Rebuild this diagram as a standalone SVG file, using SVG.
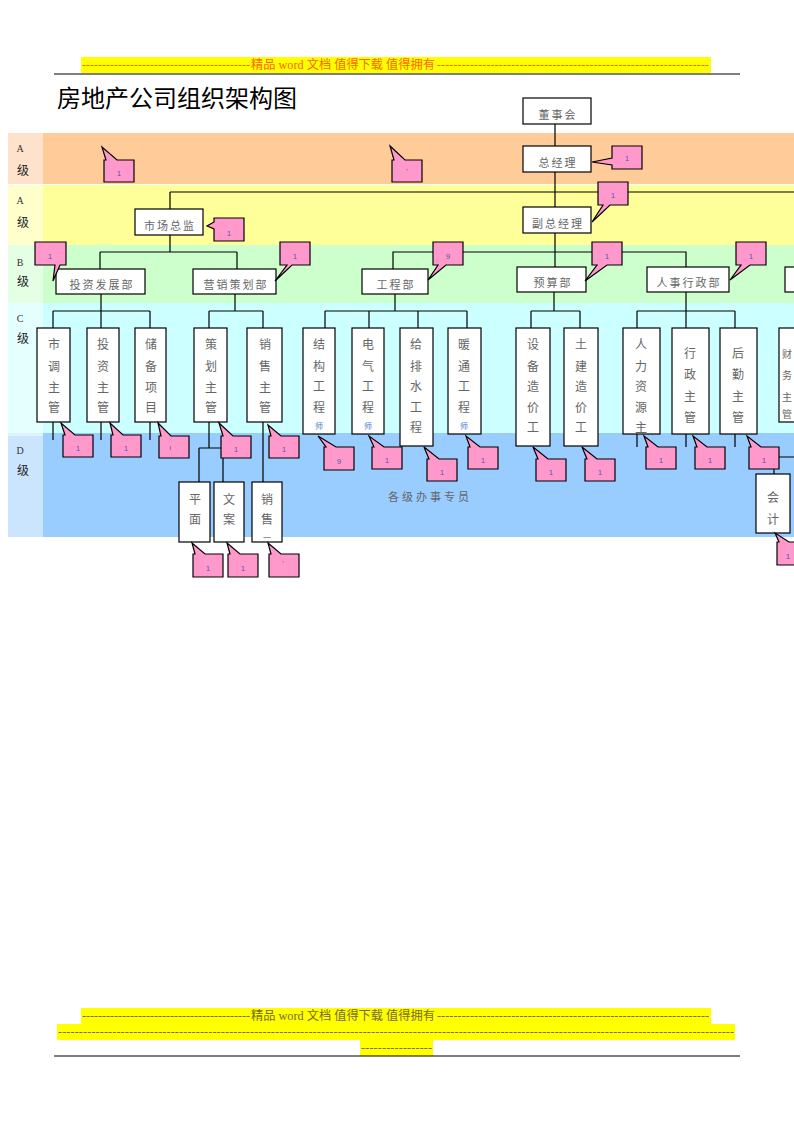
<svg xmlns="http://www.w3.org/2000/svg" width="794" height="1123" viewBox="0 0 794 1123">
<style>
.box{fill:#fff;stroke:#000;stroke-width:1.2}
.ln{stroke:#000;stroke-width:1.2;fill:none}
.t{font-family:"Noto Sans CJK SC",sans-serif;font-size:11px;fill:#666;text-anchor:middle;letter-spacing:2px}
.vt{font-family:"Noto Sans CJK SC",sans-serif;font-size:12px;fill:#666;text-anchor:middle}
.sm{font-family:"Noto Sans CJK SC",sans-serif;font-size:8px;fill:#4a7fd0;text-anchor:middle}
.co{fill:#FF99CC;stroke:#000;stroke-width:1.2}
.ct{font-family:"Liberation Sans",sans-serif;font-size:8px;fill:#5a5ab4;text-anchor:middle}
.lv{font-family:"Liberation Serif",serif;font-size:10px;fill:#333;text-anchor:middle}
.lz{font-family:"Noto Sans CJK SC",sans-serif;font-size:12px;fill:#222;text-anchor:middle}
.hd{font-family:"Liberation Serif","Noto Sans CJK SC",serif;font-size:12px}
</style>

<!-- header / footer -->
<g id="header">
<rect x="81" y="57" width="630" height="16" fill="#FFFF00"/>
<text class="hd" x="82" y="69" fill="#FF6600" textLength="168" lengthAdjust="spacing">------------------------------------------</text>
<text class="hd" x="251" y="69" fill="#FF6600" textLength="184" lengthAdjust="spacingAndGlyphs">精品 word 文档 值得下载 值得拥有</text>
<text class="hd" x="437" y="69" fill="#FF6600" textLength="272" lengthAdjust="spacing">------------------------------------------------------------------</text>
<line x1="54" y1="74" x2="740" y2="74" stroke="#000" stroke-width="1.2"/>
</g>
<g id="footer">
<rect x="81" y="1008" width="630" height="16" fill="#FFFF00"/>
<rect x="57" y="1024" width="678" height="16" fill="#FFFF00"/>
<rect x="360" y="1040" width="73" height="16" fill="#FFFF00"/>
<text class="hd" x="82" y="1020" fill="#7a6a20" textLength="168" lengthAdjust="spacing">------------------------------------------</text>
<text class="hd" x="251" y="1020" fill="#7a6a20" textLength="184" lengthAdjust="spacingAndGlyphs">精品 word 文档 值得下载 值得拥有</text>
<text class="hd" x="437" y="1020" fill="#7a6a20" textLength="272" lengthAdjust="spacing">------------------------------------------------------------------</text>
<text class="hd" x="58" y="1036" fill="#7a6a20" textLength="676" lengthAdjust="spacing">------------------------------------------------------------------------------------------------------------------------------------------------------------------</text>
<text class="hd" x="361" y="1052" fill="#7a6a20" textLength="71" lengthAdjust="spacing">-----------------</text>
<line x1="54" y1="1056" x2="740" y2="1056" stroke="#000" stroke-width="1.2"/>
</g>

<text x="57" y="107" font-family="Noto Sans CJK SC,sans-serif" font-size="24" fill="#000">房地产公司组织架构图</text>

<!-- bands -->
<g id="bands">
<rect x="8" y="133" width="786" height="51" fill="#FFCC99"/>
<rect x="8" y="133" width="35" height="51" fill="#FFE2CC"/>
<rect x="8" y="185" width="786" height="60" fill="#FFFF99"/>
<rect x="8" y="185" width="35" height="60" fill="#FFFFCC"/>
<rect x="8" y="245" width="786" height="58" fill="#CCFFCC"/>
<rect x="8" y="245" width="35" height="58" fill="#E5FFE5"/>
<rect x="8" y="303" width="786" height="130" fill="#CCFFFF"/>
<rect x="8" y="303" width="35" height="130" fill="#E5FFFF"/>
<rect x="8" y="433" width="786" height="104" fill="#99CCFF"/>
<rect x="8" y="433" width="35" height="104" fill="#CCE5FF"/>
<rect x="8" y="433" width="35" height="3" fill="#DDF2FF"/>
<text class="lv" x="20" y="152">A</text><text class="lz" x="23" y="175">级</text>
<text class="lv" x="20" y="204">A</text><text class="lz" x="23" y="227">级</text>
<text class="lv" x="20" y="266">B</text><text class="lz" x="23" y="286">级</text>
<text class="lv" x="20" y="322">C</text><text class="lz" x="23" y="343">级</text>
<text class="lv" x="20" y="454">D</text><text class="lz" x="23" y="475">级</text>
<text class="t" x="430" y="501" style="letter-spacing:3px">各级办事专员</text>
</g>

<!-- connectors -->
<g id="connectors" class="ln">
<path d="M555,124 V146 M555,172 V207 M555,233 V267"/>
<path d="M170,192 H794 M170,192 V209"/>
<path d="M170,235 V252 M100,252 H237 M100,252 V269 M237,252 V269"/>
<path d="M393,269 V252 H686 V267"/>
<path d="M101,294 V311 M53,311 H150 M53,311 V328 M101,311 V328 M150,311 V328"/>
<path d="M235,294 V311 M209,311 H263 M209,311 V328 M263,311 V328"/>
<path d="M395,294 V311 M325,311 H467 M325,311 V328 M369,311 V328 M418,311 V328 M467,311 V328"/>
<path d="M554,292 V311 M531,311 H580 M531,311 V328 M580,311 V328"/>
<path d="M686,292 V311 M637,311 H735 M637,311 V328 M686,311 V328 M735,311 V328"/>
<path d="M53,422 V440 M101,422 V440 M150,422 V440"/>
<path d="M209,422 V448 M199,448 H223 M199,448 V482 M223,448 V482 M263,422 V482"/>
<path d="M637,434 V447 M686,434 V447 M735,434 V447"/>
<path d="M794,457 H774 V474"/>
</g>

<!-- nodes -->
<g id="n-dongshihui"><rect class="box" x="523" y="98" width="68" height="26"/><text class="t" x="558" y="119">董事会</text></g>
<g id="n-zongjingli"><rect class="box" x="523" y="146" width="68" height="26"/><text class="t" x="558" y="167">总经理</text></g>
<g id="n-fuzongjingli"><rect class="box" x="523" y="207" width="68" height="26"/><text class="t" x="558" y="228">副总经理</text></g>
<g id="n-shichangzongjian"><rect class="box" x="135" y="209" width="68" height="26"/><text class="t" x="170" y="230">市场总监</text></g>

<g id="n-touzifazhan"><rect class="box" x="56" y="269" width="89" height="25"/><text class="t" x="102" y="289">投资发展部</text></g>
<g id="n-yingxiao"><rect class="box" x="193" y="269" width="83" height="25"/><text class="t" x="236" y="289">营销策划部</text></g>
<g id="n-gongcheng"><rect class="box" x="362" y="269" width="66" height="25"/><text class="t" x="396" y="289">工程部</text></g>
<g id="n-yusuan"><rect class="box" x="517" y="267" width="69" height="25"/><text class="t" x="553" y="287">预算部</text></g>
<g id="n-renshi"><rect class="box" x="647" y="267" width="82" height="25"/><text class="t" x="689" y="287">人事行政部</text></g>
<g id="n-caiwu"><rect class="box" x="785" y="267" width="40" height="25"/></g>

<g id="n-shidiao"><rect class="box" x="37" y="328" width="33" height="94"/>
<text class="vt"><tspan x="54" y="349">市</tspan><tspan x="54" y="371">调</tspan><tspan x="54" y="392">主</tspan><tspan x="54" y="412">管</tspan></text></g>
<g id="n-touzi"><rect class="box" x="87" y="328" width="32" height="94"/>
<text class="vt"><tspan x="103" y="349">投</tspan><tspan x="103" y="371">资</tspan><tspan x="103" y="392">主</tspan><tspan x="103" y="412">管</tspan></text></g>
<g id="n-chubei"><rect class="box" x="135" y="328" width="31" height="94"/>
<text class="vt"><tspan x="151" y="349">储</tspan><tspan x="151" y="371">备</tspan><tspan x="151" y="392">项</tspan><tspan x="151" y="412">目</tspan></text></g>
<g id="n-cehua"><rect class="box" x="194" y="328" width="33" height="94"/>
<text class="vt"><tspan x="211" y="349">策</tspan><tspan x="211" y="371">划</tspan><tspan x="211" y="392">主</tspan><tspan x="211" y="412">管</tspan></text></g>
<g id="n-xiaoshou"><rect class="box" x="247" y="328" width="35" height="94"/>
<text class="vt"><tspan x="265" y="349">销</tspan><tspan x="265" y="371">售</tspan><tspan x="265" y="392">主</tspan><tspan x="265" y="412">管</tspan></text></g>

<g id="n-jiegou"><rect class="box" x="303" y="328" width="32" height="106"/>
<text class="vt"><tspan x="319" y="349">结</tspan><tspan x="319" y="371">构</tspan><tspan x="319" y="391">工</tspan><tspan x="319" y="412">程</tspan></text><text class="sm" x="319" y="429">师</text></g>
<g id="n-dianqi"><rect class="box" x="352" y="328" width="32" height="106"/>
<text class="vt"><tspan x="368" y="349">电</tspan><tspan x="368" y="371">气</tspan><tspan x="368" y="391">工</tspan><tspan x="368" y="412">程</tspan></text><text class="sm" x="368" y="429">师</text></g>
<g id="n-geipaishui"><rect class="box" x="400" y="328" width="33" height="118"/>
<text class="vt"><tspan x="416" y="349">给</tspan><tspan x="416" y="371">排</tspan><tspan x="416" y="391">水</tspan><tspan x="416" y="412">工</tspan><tspan x="416" y="432">程</tspan></text></g>
<g id="n-nuantong"><rect class="box" x="448" y="328" width="33" height="106"/>
<text class="vt"><tspan x="464" y="349">暖</tspan><tspan x="464" y="371">通</tspan><tspan x="464" y="391">工</tspan><tspan x="464" y="412">程</tspan></text><text class="sm" x="464" y="429">师</text></g>

<g id="n-shebei"><rect class="box" x="516" y="328" width="34" height="118"/>
<text class="vt"><tspan x="533" y="349">设</tspan><tspan x="533" y="371">备</tspan><tspan x="533" y="391">造</tspan><tspan x="533" y="412">价</tspan><tspan x="533" y="432">工</tspan></text></g>
<g id="n-tujian"><rect class="box" x="564" y="328" width="34" height="118"/>
<text class="vt"><tspan x="581" y="349">土</tspan><tspan x="581" y="371">建</tspan><tspan x="581" y="391">造</tspan><tspan x="581" y="412">价</tspan><tspan x="581" y="432">工</tspan></text></g>

<g id="n-renli"><rect class="box" x="623" y="328" width="37" height="106"/>
<text class="vt"><tspan x="641" y="349">人</tspan><tspan x="641" y="371">力</tspan><tspan x="641" y="391">资</tspan><tspan x="641" y="412">源</tspan><tspan x="641" y="432">主</tspan></text></g>
<g id="n-xingzheng"><rect class="box" x="672" y="328" width="37" height="106"/>
<text class="vt"><tspan x="690" y="358">行</tspan><tspan x="690" y="379">政</tspan><tspan x="690" y="401">主</tspan><tspan x="690" y="422">管</tspan></text></g>
<g id="n-houqin"><rect class="box" x="720" y="328" width="37" height="106"/>
<text class="vt"><tspan x="738" y="358">后</tspan><tspan x="738" y="379">勤</tspan><tspan x="738" y="401">主</tspan><tspan x="738" y="422">管</tspan></text></g>
<g id="n-caiwuzhuguan"><rect class="box" x="779" y="328" width="36" height="94"/>
<text class="vt" style="font-size:10px"><tspan x="787" y="358">财</tspan><tspan x="787" y="379">务</tspan><tspan x="787" y="401">主</tspan><tspan x="787" y="418">管</tspan></text></g>

<g id="n-pingmian"><rect class="box" x="179" y="482" width="31" height="60"/>
<text class="vt"><tspan x="195" y="504">平</tspan><tspan x="195" y="524">面</tspan></text></g>
<g id="n-wenan"><rect class="box" x="214" y="482" width="30" height="60"/>
<text class="vt"><tspan x="229" y="504">文</tspan><tspan x="229" y="524">案</tspan></text></g>
<g id="n-xiaoshou2"><rect class="box" x="252" y="482" width="30" height="60"/>
<text class="vt"><tspan x="267" y="504">销</tspan><tspan x="267" y="524">售</tspan></text><text class="vt" x="267" y="541" style="font-size:8px">一</text></g>
<g id="n-kuaiji"><rect class="box" x="756" y="474" width="34" height="59"/>
<text class="vt"><tspan x="773" y="502">会</tspan><tspan x="773" y="524">计</tspan></text></g>

<!-- callouts -->
<g id="callouts">
<g id="c-a1"><path class="co" d="M104,160 L106,160 L102,147 L117,160 L134,160 L134,182 L104,182 Z"/><text class="ct" x="119" y="176">1</text></g>
<g id="c-a2"><path class="co" d="M392,160 L394,160 L390,146 L405,160 L422,160 L422,182 L392,182 Z"/><text class="ct" x="407" y="174">'</text></g>
<g id="c-zjl"><path class="co" d="M612,146 L642,146 L642,169 L612,169 L612,165 L592,162 L612,158 Z"/><text class="ct" x="627" y="161">1</text></g>
<g id="c-fzjl"><path class="co" d="M598,182 L628,182 L628,205 L610,205 L592,222 L603,205 L598,205 Z"/><text class="ct" x="613" y="198">1</text></g>
<g id="c-sczj"><path class="co" d="M214,218 L244,218 L244,241 L214,241 L214,229 L207,226 L214,222 Z"/><text class="ct" x="229" y="236">1</text></g>

<g id="c-b1"><path class="co" d="M35,242 L66,242 L66,265 L60,265 L53,281 L55,265 L35,265 Z"/><text class="ct" x="50" y="259">1</text></g>
<g id="c-b2"><path class="co" d="M280,242 L310,242 L310,265 L292,265 L275,281 L287,265 L280,265 Z"/><text class="ct" x="295" y="259">1</text></g>
<g id="c-b3"><path class="co" d="M433,242 L463,242 L463,265 L446,265 L428,280 L438,265 L433,265 Z"/><text class="ct" x="448" y="259">9</text></g>
<g id="c-b4"><path class="co" d="M592,242 L622,242 L622,265 L607,265 L585,281 L597,265 L592,265 Z"/><text class="ct" x="607" y="259">1</text></g>
<g id="c-b5"><path class="co" d="M736,242 L766,242 L766,265 L750,265 L730,280 L741,265 L736,265 Z"/><text class="ct" x="751" y="259">1</text></g>

<g id="c-d1"><path class="co" d="M63,435 L65,435 L61,423 L75,435 L93,435 L93,457 L63,457 Z"/><text class="ct" x="78" y="451">1</text></g>
<g id="c-d2"><path class="co" d="M111,435 L113,435 L110,423 L123,435 L141,435 L141,457 L111,457 Z"/><text class="ct" x="126" y="451">1</text></g>
<g id="c-d3"><path class="co" d="M159,436 L161,436 L158,423 L171,436 L189,436 L189,458 L159,458 Z"/><text class="ct" x="170" y="450">ı</text></g>
<g id="c-d4"><path class="co" d="M221,436 L223,436 L219,423 L233,436 L251,436 L251,458 L221,458 Z"/><text class="ct" x="236" y="452">1</text></g>
<g id="c-d5"><path class="co" d="M269,436 L271,436 L268,425 L281,436 L299,436 L299,458 L269,458 Z"/><text class="ct" x="284" y="452">1</text></g>
<g id="c-d6"><path class="co" d="M324,447 L326,447 L318,436 L336,447 L354,447 L354,470 L324,470 Z"/><text class="ct" x="339" y="464">9</text></g>
<g id="c-d7"><path class="co" d="M372,447 L374,447 L369,436 L384,447 L402,447 L402,469 L372,469 Z"/><text class="ct" x="387" y="463">1</text></g>
<g id="c-d8"><path class="co" d="M427,459 L429,459 L424,447 L439,459 L457,459 L457,481 L427,481 Z"/><text class="ct" x="442" y="475">1</text></g>
<g id="c-d9"><path class="co" d="M468,447 L470,447 L466,436 L480,447 L498,447 L498,469 L468,469 Z"/><text class="ct" x="483" y="463">1</text></g>
<g id="c-d10"><path class="co" d="M536,459 L538,459 L533,447 L548,459 L566,459 L566,481 L536,481 Z"/><text class="ct" x="551" y="475">1</text></g>
<g id="c-d11"><path class="co" d="M585,459 L587,459 L582,447 L597,459 L615,459 L615,481 L585,481 Z"/><text class="ct" x="600" y="475">1</text></g>
<g id="c-d12"><path class="co" d="M646,447 L648,447 L644,436 L658,447 L676,447 L676,469 L646,469 Z"/><text class="ct" x="661" y="463">1</text></g>
<g id="c-d13"><path class="co" d="M695,447 L697,447 L693,436 L707,447 L725,447 L725,469 L695,469 Z"/><text class="ct" x="710" y="463">1</text></g>
<g id="c-d14"><path class="co" d="M749,447 L751,447 L747,436 L761,447 L779,447 L779,469 L749,469 Z"/><text class="ct" x="764" y="463">1</text></g>
<g id="c-d15"><path class="co" d="M193,554 L195,554 L192,543 L205,554 L223,554 L223,577 L193,577 Z"/><text class="ct" x="208" y="571">1</text></g>
<g id="c-d16"><path class="co" d="M228,554 L230,554 L227,543 L240,554 L258,554 L258,577 L228,577 Z"/><text class="ct" x="243" y="571">1</text></g>
<g id="c-d17"><path class="co" d="M269,554 L271,554 L268,543 L281,554 L299,554 L299,577 L269,577 Z"/><text class="ct" x="283" y="566">'</text></g>
<g id="c-d18"><path class="co" d="M777,542 L779,542 L775,533 L789,542 L807,542 L807,565 L777,565 Z"/><text class="ct" x="788" y="559">1</text></g>
</g>
</svg>
